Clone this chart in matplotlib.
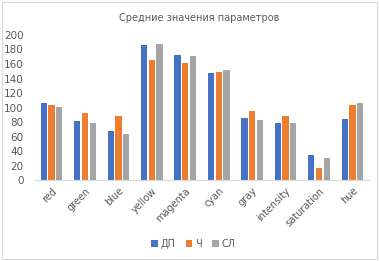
import matplotlib
matplotlib.use("Agg")
import matplotlib.pyplot as plt
import numpy as np
from matplotlib.patches import Rectangle

categories = ["red", "green", "blue", "yellow", "magenta", "cyan", "gray", "intensity", "saturation", "hue"]
series_names = ["ДП", "Ч", "СЛ"]
dp = [106, 82, 67, 186, 172, 147, 86, 79, 35, 84]
ch = [103, 93, 88, 166, 161, 149, 95, 89, 16, 104]
sl = [101, 79, 64, 188, 171, 152, 83, 78, 31, 106]
colors = ["#4472C4", "#ED7D31", "#A5A5A5"]
yticks = [0, 20, 40, 60, 80, 100, 120, 140, 160, 180, 200]

fig = plt.figure(figsize=(3.79, 2.61), dpi=100)
ax = fig.add_axes([0.092, 0.310, 0.882, 0.556])

x = np.arange(len(categories))
w = 0.19
offs = [-0.23, 0.0, 0.23]
for vals, off, c, name in zip([dp, ch, sl], offs, colors, series_names):
    ax.bar(x + off, vals, width=w, color=c, label=name)

ax.set_xlim(-0.5, len(categories) - 0.5)
ax.set_ylim(0, 200)
ax.set_yticks(yticks)
ax.set_xticks(x)
ax.set_xticklabels(categories, rotation=45, ha="right", rotation_mode="anchor")
ax.tick_params(axis="y", length=0, colors="#595959", labelsize=7.5, pad=8)
ax.tick_params(axis="x", length=0, colors="#595959", labelsize=7, pad=4)
for s in ["top", "right", "left"]:
    ax.spines[s].set_visible(False)
ax.spines["bottom"].set_color("#D9D9D9")
ax.spines["bottom"].set_linewidth(0.8)

fig.text(0.525, 0.931, "Средние значения параметров", ha="center", va="center",
         fontsize=7, color="#595959")

leg = fig.legend(loc="center", bbox_to_anchor=(0.51, 0.065), ncol=3, frameon=False,
                 fontsize=7, handlelength=0.7, handleheight=0.7, handletextpad=0.3,
                 columnspacing=1.0)
for t in leg.get_texts():
    t.set_color("#595959")

fig.patches.append(Rectangle((0.004, 0.006), 0.992, 0.988, transform=fig.transFigure,
                             fill=False, edgecolor="#D9D9D9", linewidth=0.8))

fig.savefig("out.png", dpi=100)
